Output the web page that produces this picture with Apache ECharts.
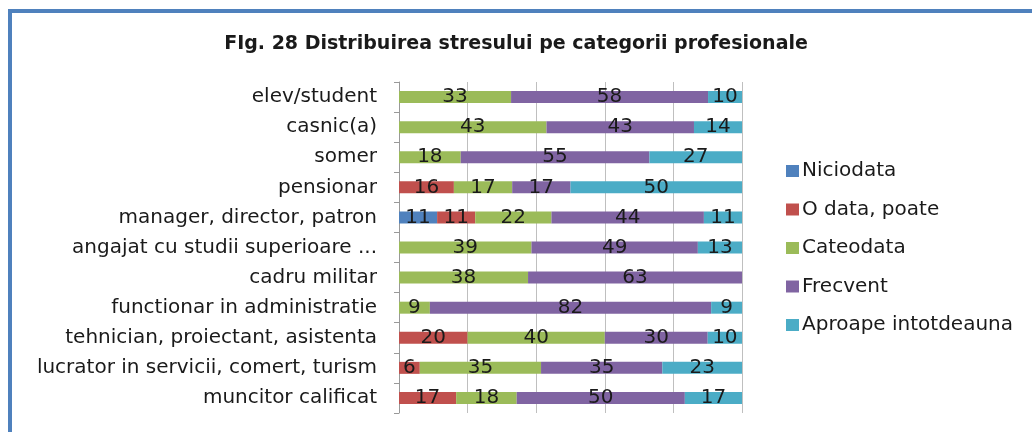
<!DOCTYPE html>
<html>
<head>
<meta charset="utf-8">
<script src="https://cdn.jsdelivr.net/npm/echarts@6/dist/echarts.min.js"></script>
<style>
html, body { margin: 0; padding: 0; background: #fff; }
#chart { width: 1032px; height: 432px; }
</style>
</head>
<body>
<div id="chart"></div>
<script>
const categories = [
    'elev/student',
    'casnic(a)',
    'somer',
    'pensionar',
    'manager, director, patron',
    'angajat cu studii superioare ...',
    'cadru militar',
    'functionar in administratie',
    'tehnician, proiectant, asistenta',
    'lucrator in servicii, comert, turism',
    'muncitor calificat'
];
const seriesNames = ['Niciodata', 'O data, poate', 'Cateodata', 'Frecvent', 'Aproape intotdeauna'];
const colors = ['#4F81BD', '#C0504D', '#9BBB59', '#8064A2', '#4BACC6'];

const niciodata = [0, 0, 0, 0, 11, 0, 0, 0, 0, 0, 0];
const odataPoate = [0, 0, 0, 16, 11, 0, 0, 0, 20, 6, 17];
const cateodata = [33, 43, 18, 17, 22, 39, 38, 9, 40, 35, 18];
const frecvent = [58, 43, 55, 17, 44, 49, 63, 82, 30, 35, 50];
const aproape = [10, 14, 27, 50, 11, 13, 0, 9, 10, 23, 17];

const values = [niciodata, odataPoate, cateodata, frecvent, aproape];
// 100% stacked: each row split by its own total
const totals = categories.map((c, i) => values.reduce((s, arr) => s + arr[i], 0));

const FONT = 'DejaVu Sans';
const chart = echarts.init(document.getElementById('chart'));

const option = {
    backgroundColor: '#fff',
    animation: false,
    textStyle: { fontFamily: FONT },
    graphic: [
        {
            type: 'rect',
            shape: { x: 10, y: 11, width: 1060, height: 460 },
            style: { fill: 'none', stroke: '#4F81BD', lineWidth: 4 },
            silent: true
        }
    ],
    title: {
        text: 'FIg. 28 Distribuirea stresului pe categorii profesionale',
        left: 'center',
        top: 30,
        textStyle: { fontFamily: FONT, fontSize: 19, fontWeight: 'bold', color: '#1a1a1a' }
    },
    legend: {
        orient: 'vertical',
        left: 781,
        top: 156,
        itemWidth: 13,
        itemHeight: 12,
        itemGap: 18.5,
        icon: 'rect',
        data: seriesNames,
        textStyle: { fontFamily: FONT, fontSize: 20, lineHeight: 20, color: '#1a1a1a', padding: [0, 0, 0, -2] }
    },
    grid: { left: 399, right: 290, top: 82, bottom: 19 },
    xAxis: {
        type: 'value',
        min: 0,
        max: 100,
        interval: 20,
        axisLabel: { show: false },
        axisLine: { show: false },
        axisTick: { show: false },
        splitLine: { lineStyle: { color: '#bfbfbf', width: 1 } }
    },
    yAxis: {
        type: 'category',
        inverse: true,
        data: categories,
        axisLine: { show: true, lineStyle: { color: '#999', width: 1 } },
        axisTick: { show: true, length: 5, lineStyle: { color: '#999' } },
        axisLabel: { fontFamily: FONT, fontSize: 20, color: '#1a1a1a', margin: 22 }
    },
    series: seriesNames.map((name, k) => ({
        name: name,
        type: 'bar',
        stack: 'total',
        barWidth: 12,
        itemStyle: { color: colors[k] },
        label: {
            show: true,
            position: 'inside',
            fontFamily: FONT,
            fontSize: 20,
            color: '#1a1a1a',
            formatter: (p) => (values[k][p.dataIndex] ? String(values[k][p.dataIndex]) : '')
        },
        data: values[k].map((v, i) => v / totals[i] * 100)
    }))
};

chart.setOption(option);
</script>
</body>
</html>
